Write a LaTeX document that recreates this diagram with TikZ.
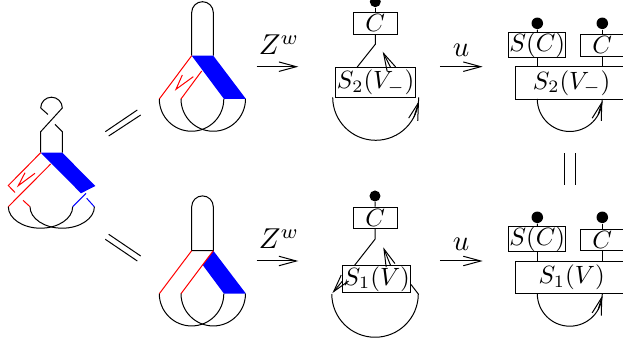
\documentclass[tikz,border=0pt]{standalone}
\usepackage{amsmath,amssymb}
\usetikzlibrary{arrows.meta}

\begin{document}
\begin{tikzpicture}[x=0.4pt,y=-0.4pt,
strand/.style={draw=black},
redline/.style={draw=red},
blueline/.style={draw=blue},
barb/.style={-{Straight Barb[length=7pt,width=3.8pt]}},
tagbox/.style={draw,inner sep=0pt},
dot/.style={circle,fill=black,inner sep=0pt,minimum size=4.4pt},
maplabel/.style={inner sep=0pt,scale=1.15}]
\useasboundingbox (0,0) rectangle (623,345);
% left picture
\draw[strand] (40.7,108) arc[start angle=180,end angle=0,radius=4.32pt] -- (40.7,131.7) -- (40.7,152.7);
\draw[strand] (40.7,108) -- (48,114.5);
\draw[strand] (55,124.3) -- (62.3,131.7) -- (62.3,152.7);
\fill[blue] (40.7,152.7) -- (62.3,152.7) -- (95.3,186) -- (81,193.3) -- cycle;
\draw[redline] (40.7,152.7) -- (8.3,185.5) -- (15,192.5);
\draw[redline] (50.7,164) -- (8.3,206.7);
\draw[redline] (35,173.3) -- (18.3,185.7) -- (25,172.7);
\draw[redline] (23,200.3) -- (30,206.7);
\draw[blueline] (72.7,206.7) -- (86,193.3);
\draw[blueline] (86.7,198.3) -- (94.3,206.7);
\draw[strand] (8.3,206.7) arc[start angle=180,end angle=360,x radius=12.88pt,y radius=8.6pt];
\draw[strand] (30,206.7) arc[start angle=180,end angle=360,x radius=12.88pt,y radius=8.6pt];
% equal signs
\draw (105.3,131.7) -- (137.3,110) (108.7,136) -- (140.7,115);
\draw (105.3,239.3) -- (137.3,261) (108.7,234.3) -- (140.7,256);
% upper band picture
\draw[strand] (191.7,55.7) -- (191.7,12.5) arc[start angle=180,end angle=0,radius=4.32pt] -- (213.3,55.7);
\fill[blue] (191.7,55.7) -- (213.3,55.7) -- (246,99) -- (224,99) -- cycle;
\draw[redline] (191.7,55.7) -- (159.3,99);
\draw[redline] (201.7,71) -- (181,99);
\draw[redline] (193.3,76.7) -- (176,89.3) -- (182.3,75);
\draw[strand] (159.3,99) arc[start angle=180,end angle=360,radius=12.9pt];
\draw[strand] (181,99) arc[start angle=180,end angle=360,radius=12.9pt];
% lower band picture
\draw[strand] (191.7,250.7) -- (191.7,206.7) arc[start angle=180,end angle=0,radius=4.32pt] -- (213.3,250.7) -- cycle;
\fill[blue] (213.3,250.7) -- (246,293.7) -- (224,293.7) -- (202.7,265) -- cycle;
\draw[redline] (191.7,250.7) -- (159.3,293.7);
\draw[redline] (213.3,250.7) -- (181,293.7);
\draw[strand] (159.3,293.7) arc[start angle=180,end angle=360,radius=12.9pt];
\draw[strand] (181,293.7) arc[start angle=180,end angle=360,radius=12.9pt];
% arrows with labels
\coordinate (za) at (256.7,66.7); \coordinate (zb) at (298.3,66.7);
\coordinate (zc) at (256.7,261); \coordinate (zd) at (298.3,261);
\coordinate (ua) at (440,66.7); \coordinate (ub) at (482.7,66.7);
\coordinate (uc) at (440,261); \coordinate (ud) at (482.7,261);
\draw[barb] (za) -- (zb); \draw[barb] (zc) -- (zd);
\draw[barb] (ua) -- (ub); \draw[barb] (uc) -- (ud);
\node[maplabel] (zt) at (279,45) {$Z^w$};
\node[maplabel] (zl) at (279,239) {$Z^w$};
\node[maplabel] (ut) at (461,50) {$u$};
\node[maplabel] (ul) at (461,244) {$u$};
% middle top
\node[dot] (d1) at (375.3,1.7) {};
\node[tagbox,minimum width=17.6pt,minimum height=8.8pt] (c1) at (375.3,23.3) {$C$};
\node[tagbox,minimum width=32pt,minimum height=11.8pt] (s1) at (375.7,82.5) {$S_2(V_-)$};
\coordinate (j1) at (375.3,44.3);
\coordinate (a1) at (390.7,67.7);
\coordinate (b1) at (382.7,51.7);
\draw (d1) -- (c1);
\draw (c1) -- (j1) -- (356.7,67.7);
\draw[barb] (a1) -- (b1);
\coordinate (l1) at (332.7,97.3);
\draw[strand] (l1) arc[start angle=180,end angle=360,radius=17.2pt];
\coordinate (r1a) at (414,117);
\coordinate (r1b) at (419,101);
\draw[barb] (r1a) -- (r1b);
% middle bottom
\node[dot] (d2) at (375,196) {};
\node[tagbox,minimum width=17.6pt,minimum height=8.6pt] (c2) at (375.3,218) {$C$};
\node[tagbox,minimum width=27.3pt,minimum height=10.6pt] (s2) at (376.8,279) {$S_1(V)$};
\coordinate (j2) at (375,239.3);
\coordinate (a2) at (390.7,265.7);
\coordinate (b2) at (383.3,247.3);
\draw (d2) -- (c2);
\draw (c2) -- (j2) -- (354.3,265.7);
\draw[barb] (a2) -- (b2);
\coordinate (l2) at (342.7,280.7);
\coordinate (t2) at (332.5,293);
\coordinate (r2) at (411,284.5);
\draw[barb] (l2) -- (t2);
\draw (r2) -- (418.3,294) arc[start angle=0,end angle=-180,radius=17.3pt];
% right top
\node[dot,minimum size=4.6pt] (d3) at (537.3,23.3) {};
\node[dot,minimum size=4.6pt] (d4) at (602.3,23.3) {};
\node[tagbox,minimum width=23pt,minimum height=10pt] (sc1) at (537.2,44.8) {$S(C)$};
\node[tagbox,minimum width=17.6pt,minimum height=8.7pt] (c3) at (602.3,45.2) {$C$};
\node[tagbox,minimum width=44.8pt,minimum height=13pt] (s3) at (571.7,83) {$S_2(V_-)$};
\draw (d3) -- (sc1); \draw (d4) -- (c3);
\draw (sc1) -- (sc1 |- s3.north); \draw (c3) -- (c3 |- s3.north);
\coordinate (p1) at (537.3,99);
\draw[strand] (p1) arc[start angle=180,end angle=360,radius=13pt];
\coordinate (p1a) at (598.1,115);
\coordinate (p1b) at (602.3,101);
\draw[barb] (p1a) -- (p1b);
% equal sign between the right pictures
\draw (564.3,153.3) -- (564.3,185) (575.3,153.3) -- (575.3,185);
% right bottom
\node[dot,minimum size=4.6pt] (d5) at (537.3,217.3) {};
\node[dot,minimum size=4.6pt] (d6) at (602.3,217.3) {};
\node[tagbox,minimum width=23pt,minimum height=9.7pt] (sc2) at (537.2,239.2) {$S(C)$};
\node[tagbox,minimum width=17.6pt,minimum height=8.5pt] (c4) at (602.3,239.7) {$C$};
\node[tagbox,minimum width=44.8pt,minimum height=13pt] (s4) at (571.7,277.3) {$S_1(V)$\hspace{3.2pt}};
\draw (d5) -- (sc2); \draw (d6) -- (c4);
\draw (sc2) -- (sc2 |- s4.north); \draw (c4) -- (c4 |- s4.north);
\coordinate (p2) at (537.3,293.7);
\draw[strand] (p2) arc[start angle=180,end angle=360,radius=13pt];
\coordinate (p2a) at (598.1,309.7);
\coordinate (p2b) at (602.3,295.7);
\draw[barb] (p2a) -- (p2b);
\end{tikzpicture}
\end{document}
